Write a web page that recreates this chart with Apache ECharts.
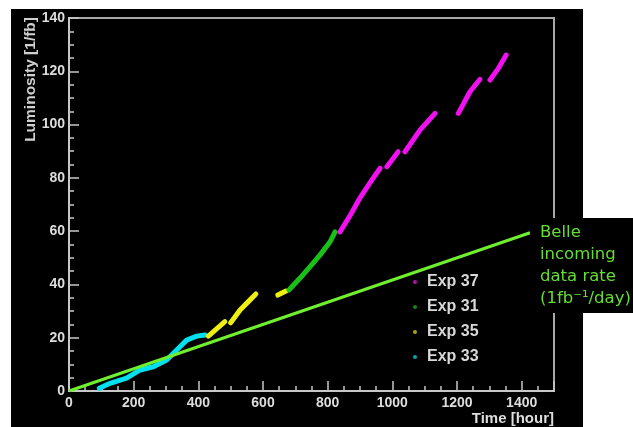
<!DOCTYPE html>
<html>
<head>
<meta charset="utf-8">
<script src="https://cdn.jsdelivr.net/npm/echarts@6/dist/echarts.min.js"></script>
<style>
html,body{margin:0;padding:0;background:#fff;}
#chart{width:633px;height:427px;}
</style>
</head>
<body>
<div id="chart"></div>
<script>
// ---- data (hours, 1/fb); null = gap between runs ----
const exp33 = [[94,1.0],[127,2.9],[178,4.8],[220,7.9],[261,9.1],[302,11.6],[333,15.4],[364,19.1],[395,20.6],[421,21.0]];
const exp35 = [[431,20.6],[482,26.0],null,[500,25.6],[529,30.4],[560,34.2],[578,36.4],null,[646,36.0],[671,37.5]];
const exp31 = [[680,37.9],[714,42.3],[745,46.6],[776,51.0],[807,55.9],[823,59.7]];
const exp37 = [[838,59.7],[870,66.0],[900,72.5],[930,78.0],[962,83.6],null,[983,84.2],[1018,89.8],null,
               [1039,89.8],[1086,98.0],[1132,104.2],null,[1204,104.2],[1240,112.3],[1271,117.0],null,
               [1302,116.7],[1328,121.1],[1352,126.1]];
const belleRate = [[0,0],[1426,59.4]];
const legendNames = ['Exp 37','Exp 31','Exp 35','Exp 33'];
const xLabelValues = [0,200,400,600,800,1000,1200,1400];
const annotationLines = ['Belle','incoming','data rate','(1fb\u207B\u00B9/day)'];

const fix = arr => arr.map(p => p ? p : ['-','-']);

const chart = echarts.init(document.getElementById('chart'));
const labelFont = {color:'#dddddd', fontFamily:'Liberation Sans, Arial, sans-serif', fontWeight:'bold', fontSize:14};
const axisCol = '#c8c8c8';

function seg(name, data, color, legendColor){
  return {name, type:'line', data: fix(data), xAxisIndex:0, yAxisIndex:0, showSymbol:false, symbol:'circle', symbolSize:4,
    itemStyle:{color:legendColor}, lineStyle:{color, width:5, cap:'round', join:'round'}, connectNulls:false, z:3, silent:true, animation:false};
}

chart.setOption({
  backgroundColor:'transparent',
  animation:false,
  grid:{left:69, right:79, top:18, bottom:36, show:true, borderColor:'#a8a8a8', borderWidth:2, backgroundColor:'transparent'},
  xAxis:[{
    type:'value', min:0, max:1500, interval:50, position:'bottom',
    axisLine:{show:true, lineStyle:{color:axisCol, width:2}},
    axisTick:{show:true, inside:true, length:5, lineStyle:{color:axisCol, width:1.5}},
    axisLabel:Object.assign({margin:5, formatter: v => xLabelValues.includes(v) ? String(v) : ''}, labelFont),
    splitLine:{show:false}
  },{
    type:'value', min:0, max:1500, interval:200, position:'bottom',
    axisLine:{show:false},
    axisTick:{show:true, inside:true, length:10, lineStyle:{color:axisCol, width:1.5}},
    axisLabel:{show:false}, splitLine:{show:false}
  }],
  yAxis:{
    type:'value', min:0, max:140, interval:20,
    axisLine:{show:true, lineStyle:{color:axisCol, width:2}},
    axisTick:{show:true, inside:true, length:10, lineStyle:{color:axisCol, width:1.5}},
    minorTick:{show:true, splitNumber:4, length:5, lineStyle:{color:axisCol, width:1.5}},
    axisLabel:Object.assign({margin:4}, labelFont),
    splitLine:{show:false}
  },
  legend:{
    data:legendNames, orient:'vertical', left:408, top:269, itemGap:9,
    itemWidth:14, itemHeight:4, icon:'circle', selectedMode:false,
    textStyle:{color:'#d8d8d8', fontFamily:'Liberation Sans, Arial, sans-serif', fontWeight:'bold', fontSize:16, lineHeight:16}
  },
  series:[
    seg('Exp 33', exp33, '#00e0ee', '#10a0a8'),
    seg('Exp 35', exp35, '#eeee10', '#b0a010'),
    seg('Exp 31', exp31, '#18c018', '#108a10'),
    seg('Exp 37', exp37, '#f010f0', '#b010b0'),
    {name:'Belle rate', type:'line', data:belleRate, showSymbol:false, lineStyle:{color:'#70ee30', width:3}, z:4, silent:true}
  ],
  graphic:[
    {type:'rect', z:-100, shape:{x:11, y:9, width:572, height:418}, style:{fill:'#000'}},
    {type:'rect', z:100, shape:{x:530, y:218, width:103, height:95}, style:{fill:'#000'}},
    {type:'text', z:101, left:540, top:222, style:{text:annotationLines.join('\n'), fill:'#66dd33',
      font:'16.5px "DejaVu Sans", Verdana, sans-serif', lineHeight:22}},
    {type:'text', z:50, x:31, y:17, rotation:Math.PI/2, style:{text:'Luminosity [1/fb]', fill:'#d0d0d0',
      font:'bold 15.5px "Liberation Sans", Arial, sans-serif', textAlign:'right', textVerticalAlign:'middle'}},
    {type:'text', z:50, x:554, y:419, style:{text:'Time [hour]', fill:'#dddddd',
      font:'bold 15px "Liberation Sans", Arial, sans-serif', textAlign:'right', textVerticalAlign:'middle'}}
  ]
});
</script>
</body>
</html>
